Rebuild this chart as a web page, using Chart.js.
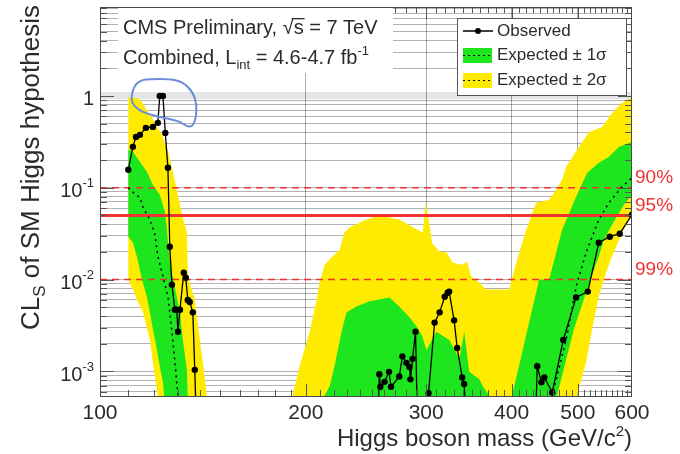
<!DOCTYPE html>
<html>
<head>
<meta charset="utf-8">
<script src="https://cdn.jsdelivr.net/npm/chart.js@4.4.0/dist/chart.umd.min.js"></script>
<style>
  html, body { margin: 0; padding: 0; background: #fff; }
</style>
</head>
<body>
<canvas id="clsChart" width="680" height="454"></canvas>
<script>
var FONT = '"Liberation Sans", Arial, Helvetica, sans-serif';
var TEXT = '#2b2b2b';

var xTickValues = [100, 200, 300, 400, 500, 600];
var yDecades = [0.001, 0.01, 0.1, 1];
var yDecadeExps = [-3, -2, -1, 0];

// exclusion levels
var clLevels = [0.1, 0.05, 0.01];
var clNames = ['90%', '95%', '99%'];

// observed CLs
var obsMass = [110, 111.7, 112.9, 114.4, 116.7, 119.5, 121.5, 122.3, 123.6, 124.6, 125.7, 126.5, 127.4, 128.7, 129.5, 130, 130.9, 132.6, 133.5, 134.4, 135.3, 136.7, 137.6, 138.5,
  254.7, 256.2, 257.1, 260.7, 264.7, 266.5, 274, 276.9, 280.7, 283.5, 284.5, 286.5, 289.4, 291, 302.4, 308.6, 313.9, 319.3, 322.5, 324.1, 329.6, 333, 338.7, 340.9, 344.4,
  433.1, 436, 442.2, 446.6, 458.7, 476, 497, 517, 536.5, 556.7, 575.8, 600];
var obsCLs = [0.157, 0.279, 0.358, 0.377, 0.449, 0.46, 0.509, 1.0, 1.0, 0.396, 0.165, 0.0228, 0.0088, 0.0047, 0.0047, 0.0027, 0.0047, 0.0119, 0.0105, 0.006, 0.0057, 0.0044, 0.00104, 0.0002,
  0.0002, 0.00093, 0.00068, 0.00077, 0.00099, 0.00068, 0.00088, 0.00146, 0.00124, 0.00112, 0.00082, 0.00137, 0.0027, 0.0004, 0.00058, 0.0034, 0.0044, 0.0065, 0.0072, 0.0074, 0.0036, 0.0018, 0.00086, 0.00073, 0.0002,
  0.0002, 0.00114, 0.00076, 0.00086, 0.00059, 0.0022, 0.0064, 0.0074, 0.0252, 0.0293, 0.0316, 0.051];

// median expected
var expMass = [110, 110.6, 114.4, 115.6, 118.3, 120.3, 121.5, 123.2, 125.7, 127.3, 128.7, 130, 131.5, 455, 458.7, 480.6, 497.1, 514, 536.5, 555.3, 580.1, 600];
var expCLs = [0.1, 0.095, 0.078, 0.061, 0.045, 0.031, 0.018, 0.0119, 0.0066, 0.0029, 0.00126, 0.00055, 0.0002, 0.0002, 0.00055, 0.0022, 0.0084, 0.0197, 0.045, 0.0687, 0.1025, 0.1285];

// +-2 sigma, low mass
var yelLowUpM = [110, 112, 114, 115.2, 117, 119.1, 121, 123.2, 125.7, 127.8, 130, 132.2, 134, 134.5, 137.6, 140, 142.4, 144.5];
var yelLowUp = [0.97, 0.96, 0.93, 0.86, 0.70, 0.58, 0.47, 0.38, 0.25, 0.149, 0.084, 0.047, 0.033, 0.0105, 0.0061, 0.0022, 0.00082, 0.0003];
var yelLowDnM = [110, 111.7, 113.5, 115.6, 118.3, 119.5, 121.5, 122.5];
var yelLowDn = [0.01, 0.0078, 0.0058, 0.0044, 0.0022, 0.00126, 0.00054, 0.0003];

// +-2 sigma, high mass
var yelHighUpM = [189, 191.3, 195.9, 202.6, 207.4, 209.5, 213.1, 218, 224, 227.8, 231.6, 245.3, 256.2, 274, 286.1, 296.5, 299.6, 303.6, 306, 313.9,
  321.4, 327.6, 338.6, 344.4, 348.9, 358.5, 367, 396.7, 406.3, 420.1, 434.5, 453.9, 464.7, 474.2, 480.6, 502, 519.2, 542.5, 561, 580.1, 600];
var yelHighUp = [0.0002, 0.00055, 0.00114, 0.0027, 0.006, 0.0093, 0.0145, 0.0174, 0.021, 0.0325, 0.037, 0.045, 0.05, 0.045, 0.0376, 0.0325, 0.069, 0.0376, 0.025, 0.0202,
  0.0197, 0.0154, 0.0145, 0.0156, 0.0108, 0.0093, 0.0078, 0.0078, 0.0153, 0.035, 0.0687, 0.0741, 0.095, 0.122, 0.169, 0.279, 0.406, 0.46, 0.653, 0.839, 0.975];
var yelHighDnM = [189, 492, 498.7, 514, 524.5, 536.5, 549.7, 561, 580.1, 600];
var yelHighDn = [0.0001, 0.0003, 0.00055, 0.00125, 0.00286, 0.00653, 0.0119, 0.0178, 0.0324, 0.0534];

// +-1 sigma, low mass
var grnLowUpM = [110, 111.7, 114.4, 117.1, 119.5, 122.3, 124.4, 125.2, 126.5, 129.5, 130.9, 132.2, 134.0, 134.4, 135.5];
var grnLowUp = [0.259, 0.246, 0.192, 0.149, 0.108, 0.084, 0.055, 0.037, 0.0154, 0.0065, 0.0044, 0.0022, 0.00104, 0.00055, 0.0002];
var grnLowDnM = [110, 111.7, 113.2, 115.2, 117.1, 118.3, 119.5, 121.1, 122.3, 123.6, 125.5];
var grnLowDn = [0.0294, 0.0253, 0.0178, 0.01, 0.0065, 0.0044, 0.0029, 0.00173, 0.00114, 0.00077, 0.0002];

// +-1 sigma, high mass
var grnHighUpM = [212, 213.1, 216.7, 220.3, 225.6, 229.4, 237.2, 247.9, 265.1, 274, 283.5, 290.3, 296.2, 300.2, 310.4, 324.3, 335.5, 341, 346.8, 358.7,
  364.8, 370.9, 377.2, 394, 400.7, 438.9, 453.9, 474.2, 497.1, 515.7, 536.5, 555.3, 574.3, 600];
var grnHighUp = [0.0002, 0.00055, 0.00069, 0.00114, 0.0027, 0.0044, 0.0051, 0.0058, 0.0064, 0.0051, 0.0039, 0.0031, 0.0024, 0.0017, 0.0027, 0.0022, 0.00137, 0.0027, 0.00099, 0.00082,
  0.00065, 0.00055, 0.0002, 0.0002, 0.00055, 0.01, 0.01, 0.035, 0.08, 0.145, 0.187, 0.217, 0.279, 0.316];
var grnHighDnM = [212, 460, 466.3, 493.5, 522.7, 536.5, 546, 564.6, 584, 600];
var grnHighDn = [0.0001, 0.0002, 0.00055, 0.0029, 0.0105, 0.0178, 0.0273, 0.0428, 0.0655, 0.0837];

// hand-drawn loop around the low-mass excess
var loopMass = [110.9, 112.1, 114.8, 118.3, 126.5, 132.2, 136.7, 138.6, 138.0, 136.2, 133.5, 131.3, 126.5, 120.3, 115.2, 112.5];
var loopCLs = [0.905, 1.28, 1.49, 1.53, 1.53, 1.42, 1.105, 0.80, 0.548, 0.46, 0.472, 0.52, 0.562, 0.606, 0.67, 0.76];

var GREEN = '#1ee61e';
var YELLOW = '#ffeb00';
var RED = '#f03232';

function toPoints(m, v) {
  return m.map(function (x, i) { return { x: x, y: v[i] }; });
}

// closed outline: upper edge left to right, lower edge back
function bandShape(upM, up, dnM, dn) {
  return toPoints(upM, up).concat(toPoints(dnM, dn).reverse());
}

function bandDataset(label, data, color, order) {
  return {
    label: label, data: data, fill: 'shape', backgroundColor: color,
    borderColor: 'rgba(0,0,0,0)', borderWidth: 0, pointRadius: 0, order: order
  };
}

function levelDataset(level, i) {
  return {
    label: clNames[i],
    data: [{ x: 100, y: level }, { x: 600, y: level }],
    borderColor: RED,
    borderWidth: level === 0.05 ? 3 : 1.5,
    borderDash: level === 0.05 ? [] : [7, 5],
    pointRadius: 0, fill: false, order: 2
  };
}

function runWidth(ctx, runs) {
  var w = 0;
  runs.forEach(function (r) {
    ctx.font = r.size + 'px ' + FONT;
    w += ctx.measureText(r.t).width;
  });
  return w;
}

function drawRuns(ctx, x, y, runs) {
  runs.forEach(function (r) {
    ctx.font = r.size + 'px ' + FONT;
    ctx.fillText(r.t, x, y + (r.dy || 0));
    x += ctx.measureText(r.t).width;
  });
  return x;
}

var decorations = {
  id: 'decorations',
  afterDatasetsDraw: function (chart) {
    var ctx = chart.ctx, xs = chart.scales.x, ys = chart.scales.y;
    var p = loopMass.map(function (m, i) {
      return { x: xs.getPixelForValue(m), y: ys.getPixelForValue(loopCLs[i]) };
    });
    var n = p.length;
    ctx.save();
    ctx.strokeStyle = '#6a8ed8';
    ctx.lineWidth = 2;
    ctx.beginPath();
    ctx.moveTo((p[n - 1].x + p[0].x) / 2, (p[n - 1].y + p[0].y) / 2);
    for (var i = 0; i < n; i++) {
      var q = p[(i + 1) % n];
      ctx.quadraticCurveTo(p[i].x, p[i].y, (p[i].x + q.x) / 2, (p[i].y + q.y) / 2);
    }
    ctx.closePath();
    ctx.stroke();
    ctx.restore();
  },
  afterDraw: function (chart) {
    var ctx = chart.ctx, a = chart.chartArea;
    var xs = chart.scales.x, ys = chart.scales.y;
    ctx.save();

    // small ticks inside the frame
    ctx.strokeStyle = '#555';
    ctx.lineWidth = 1;
    ctx.beginPath();
    for (var m = 110; m < 600; m += 10) {
      var px = Math.round(xs.getPixelForValue(m)) + 0.5;
      var len = m % 100 === 0 ? 12 : 6;
      ctx.moveTo(px, a.bottom); ctx.lineTo(px, a.bottom - len);
      ctx.moveTo(px, a.top); ctx.lineTo(px, a.top + len);
    }
    ys.ticks.forEach(function (t) {
      var py = Math.round(ys.getPixelForValue(t.value)) + 0.5;
      var len = yDecades.indexOf(t.value) >= 0 ? 14 : 7;
      ctx.moveTo(a.left, py); ctx.lineTo(a.left + len, py);
      ctx.moveTo(a.right, py); ctx.lineTo(a.right - len, py);
    });
    ctx.stroke();

    // frame
    ctx.strokeStyle = '#4a4a4a';
    ctx.strokeRect(a.left + 0.5, a.top + 0.5, a.right - a.left - 1, a.bottom - a.top);

    // header text on a white box
    ctx.fillStyle = '#fff';
    ctx.fillRect(118, a.top + 1, 275, 65);
    ctx.fillStyle = TEXT;
    ctx.textBaseline = 'alphabetic';
    ctx.textAlign = 'left';
    var x = drawRuns(ctx, 123, 34, [{ t: 'CMS Preliminary, ', size: 20 }, { t: '\u221A', size: 20 }]);
    ctx.font = '20px ' + FONT;
    var sw = ctx.measureText('s').width;
    ctx.fillText('s', x, 34);
    ctx.fillRect(x - 2, 18, sw + 3, 1.3);
    drawRuns(ctx, x + sw, 34, [{ t: ' = 7 TeV', size: 20 }]);
    drawRuns(ctx, 123, 64, [
      { t: 'Combined, L', size: 20 }, { t: 'int', size: 13, dy: 5 },
      { t: ' = 4.6-4.7 fb', size: 20 }, { t: '-1', size: 13, dy: -9 }
    ]);

    // legend
    ctx.fillStyle = '#fff';
    ctx.fillRect(457, 18, 169, 77);
    ctx.strokeStyle = '#555';
    ctx.strokeRect(457.5, 18.5, 169, 77);
    ctx.strokeStyle = '#000';
    ctx.lineWidth = 1.5;
    ctx.beginPath(); ctx.moveTo(463, 31); ctx.lineTo(493, 31); ctx.stroke();
    ctx.fillStyle = '#000';
    ctx.beginPath(); ctx.arc(478, 31, 3, 0, Math.PI * 2); ctx.fill();
    ctx.fillStyle = GREEN; ctx.fillRect(463, 48, 29, 15);
    ctx.fillStyle = YELLOW; ctx.fillRect(463, 73, 29, 15);
    ctx.setLineDash([2, 3]);
    ctx.lineWidth = 1;
    ctx.beginPath();
    ctx.moveTo(463, 55.5); ctx.lineTo(492, 55.5);
    ctx.moveTo(463, 80.5); ctx.lineTo(492, 80.5);
    ctx.stroke();
    ctx.setLineDash([]);
    ctx.fillStyle = TEXT;
    ctx.font = '17px ' + FONT;
    ctx.textBaseline = 'middle';
    ctx.fillText('Observed', 497, 31);
    ctx.fillText('Expected \u00B1 1\u03C3', 497, 55);
    ctx.fillText('Expected \u00B1 2\u03C3', 497, 80);

    // confidence level labels
    ctx.fillStyle = RED;
    ctx.font = '19px ' + FONT;
    clLevels.forEach(function (lv, i) {
      ctx.fillText(clNames[i], a.right + 3, ys.getPixelForValue(lv) - 10);
    });

    // y tick labels with exponents
    ctx.fillStyle = TEXT;
    ctx.textBaseline = 'middle';
    yDecades.forEach(function (v, i) {
      var py = ys.getPixelForValue(v) + 4;
      var runs = yDecadeExps[i] === 0 ? [{ t: '1', size: 20 }]
        : [{ t: '10', size: 20 }, { t: String(yDecadeExps[i]), size: 13, dy: -8 }];
      drawRuns(ctx, 94 - runWidth(ctx, runs), py, runs);
    });

    // axis titles
    ctx.textBaseline = 'alphabetic';
    var xt = [{ t: 'Higgs boson mass (GeV/c', size: 24 }, { t: '2', size: 15, dy: -10 }, { t: ')', size: 24 }];
    drawRuns(ctx, a.right - runWidth(ctx, xt), 446, xt);

    var yt = [{ t: 'CL', size: 26 }, { t: 'S', size: 17, dy: 6 }, { t: ' of SM Higgs hypothesis', size: 26 }];
    ctx.translate(39, 5);
    ctx.rotate(-Math.PI / 2);
    drawRuns(ctx, -runWidth(ctx, yt), 0, yt);

    ctx.restore();
  }
};

var datasets = [
  {
    label: 'Observed', data: toPoints(obsMass, obsCLs),
    borderColor: '#000', borderWidth: 1.3,
    pointRadius: 3.2, pointBackgroundColor: '#000', pointBorderWidth: 0,
    fill: false, order: 0
  },
  {
    label: 'Expected', data: toPoints(expMass, expCLs),
    borderColor: '#000', borderWidth: 1.5, borderDash: [2, 4],
    pointRadius: 0, fill: false, order: 1
  }
].concat(clLevels.map(levelDataset)).concat([
  bandDataset('Expected \u00B1 1\u03C3', bandShape(grnLowUpM, grnLowUp, grnLowDnM, grnLowDn), GREEN, 3),
  bandDataset('Expected \u00B1 1\u03C3', bandShape(grnHighUpM, grnHighUp, grnHighDnM, grnHighDn), GREEN, 3),
  bandDataset('Expected \u00B1 2\u03C3', bandShape(yelLowUpM, yelLowUp, yelLowDnM, yelLowDn), YELLOW, 4),
  bandDataset('Expected \u00B1 2\u03C3', bandShape(yelHighUpM, yelHighUp, yelHighDnM, yelHighDn), YELLOW, 4)
]);

var ctx = document.getElementById('clsChart').getContext('2d');
var clsChart = new Chart(ctx, {
  type: 'line',
  data: { datasets: datasets },
  options: {
    responsive: false,
    animation: false,
    devicePixelRatio: 1,
    events: [],
    layout: { padding: { top: 7, right: 48, left: 0, bottom: 0 } },
    plugins: { legend: { display: false }, tooltip: { enabled: false } },
    scales: {
      x: {
        type: 'logarithmic', min: 100, max: 600,
        afterBuildTicks: function (s) {
          s.ticks = xTickValues.map(function (v) { return { value: v }; });
        },
        afterFit: function (s) { s.height = 58; },
        ticks: {
          autoSkip: false, maxRotation: 0, padding: 5, color: TEXT,
          font: { family: FONT, size: 21 },
          callback: function (v) { return String(v); }
        },
        grid: {
          drawTicks: false,
          color: function (c) {
            var v = c.tick && c.tick.value;
            return (v === 100 || v === 600) ? 'rgba(0,0,0,0)' : 'rgba(0,0,0,0.32)';
          }
        },
        border: { display: false }
      },
      y: {
        type: 'logarithmic', min: 0.00054, max: 9.3,
        afterBuildTicks: function (s) {
          var t = [];
          [0.0001, 0.001, 0.01, 0.1, 1].forEach(function (d) {
            for (var k = 1; k < 10; k++) {
              var v = +(d * k).toPrecision(3);
              if (v > s.min && v < s.max) t.push({ value: v });
            }
          });
          s.ticks = t;
        },
        afterFit: function (s) { s.width = 100; },
        ticks: { display: false },
        grid: {
          drawTicks: false,
          lineWidth: function (c) { return c.tick && c.tick.value === 1 ? 7 : 1; },
          color: function (c) {
            return c.tick && c.tick.value === 1 ? 'rgba(0,0,0,0.1)' : 'rgba(0,0,0,0.3)';
          }
        },
        border: { display: false }
      }
    }
  },
  plugins: [decorations]
});
</script>
</body>
</html>
